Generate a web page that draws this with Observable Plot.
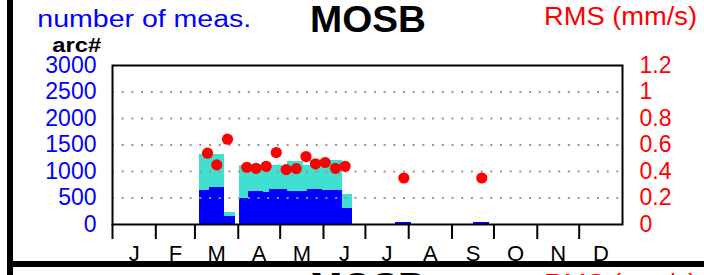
<!DOCTYPE html>
<html><head><meta charset="utf-8">
<script src="https://cdn.jsdelivr.net/npm/d3@7"></script>
<script src="https://cdn.jsdelivr.net/npm/@observablehq/plot@0.6"></script>
<style>
body{margin:0;background:#fff;}
#wrap{position:relative;width:704px;height:275px;overflow:hidden;background:#fff;font-family:"Liberation Sans",Arial,sans-serif;}
#wrap svg{position:absolute;left:0;top:0;}
</style></head><body><div id="wrap"></div>
<script>
// ---- data ----
const monthLabels = ["J","F","M","A","M","J","J","A","S","O","N","D"];
const monthStarts = [0,31,59,90,120,151,181,212,243,273,304,334];
const monthLengths = [31,28,31,30,31,30,31,31,30,31,30,31];
const countTicks = [0,500,1000,1500,2000,2500,3000];
const gridTicks = [500,1000,1500,2000,2500];
const rmsTicks = [0,0.2,0.4,0.6,0.8,1,1.2];

// total number of measurements (turquoise), by day-of-year span
const totalStart = [62.5, 80.4, 90.7, 125.5, 136.9, 141.7, 164.9, 202.7, 258.6];
const totalEnd   = [80.4, 87.8, 125.5, 136.9, 141.7, 164.9, 172.0, 214.0, 270.0];
const totalCount = [1318, 220, 1106, 1188, 1110, 1205, 562, 40, 40];

// arc measurements (blue), by day-of-year span
const arcStart = [62.5, 69.2, 80.4, 90.7, 97.3, 108.3, 112.1, 125.5, 139.3, 150.5, 164.9, 202.7, 258.6];
const arcEnd   = [69.2, 80.4, 87.8, 97.3, 108.3, 112.1, 125.5, 139.3, 150.5, 164.9, 172.0, 214.0, 270.0];
const arcCount = [636, 689, 144, 499, 619, 600, 651, 624, 655, 636, 309, 40, 40];

// weekly RMS (mm/s)
const rmsDay   = [68.0, 74.6, 82.3, 96.1, 102.8, 110.0, 117.2, 124.3, 131.5, 138.5, 145.3, 152.2, 159.6, 166.5, 208.5, 264.3];
const rmsValue = [0.538, 0.450, 0.644, 0.432, 0.424, 0.439, 0.543, 0.414, 0.422, 0.513, 0.458, 0.468, 0.424, 0.439, 0.351, 0.351];

// ---- build ----
const countMax = countTicks[countTicks.length-1];
const rmsMax = rmsTicks[rmsTicks.length-1];
const k = countMax / rmsMax;
const totals = totalCount.map((v,i)=>({x1: totalStart[i], x2: totalEnd[i], v}));
const arcs = arcCount.map((v,i)=>({x1: arcStart[i], x2: arcEnd[i], v}));
const rms = rmsValue.map((v,i)=>({x: rmsDay[i], v}));
const monthMids = monthStarts.map((s,i)=> s + monthLengths[i]/2);

const chart = Plot.plot({
  width: 704, height: 275,
  marginLeft: 112, marginRight: 82, marginTop: 65, marginBottom: 51,
  style: {fontFamily: '"Liberation Sans", Arial, sans-serif', background: "transparent", overflow: "visible"},
  x: {domain: [0, 365]},
  y: {domain: [0, countMax]},
  marks: [
    Plot.rectY(totals, {x1: "x1", x2: "x2", y: "v", fill: "#40e0d0", shapeRendering: "crispEdges"}),
    Plot.rectY(arcs, {x1: "x1", x2: "x2", y: "v", fill: "#0000ff", shapeRendering: "crispEdges"}),
    Plot.gridY(gridTicks, {stroke: "#b08a8a", strokeOpacity: 1, strokeWidth: 2, strokeDasharray: "2 7.7"}),
    Plot.dot(rms, {x: "x", y: d => d.v * k, r: 5.6, fill: "#ff0000"}),
    Plot.frame({stroke: "black", strokeWidth: 2}),
    Plot.axisY(countTicks, {anchor: "left", tickSize: 0, tickPadding: 16, fill: "#0000ff", fontSize: 23, label: null,
      tickFormat: d => String(d)}),
    Plot.axisY(rmsTicks.map(r => r * k), {anchor: "right", tickSize: 0, tickPadding: 17, fill: "#ff0000", fontSize: 23, label: null,
      tickFormat: d => String(rmsTicks[d3.minIndex(rmsTicks, r => Math.abs(r*k - d))])}),
    Plot.axisX(monthStarts, {tickSize: 15, tickPadding: 0, stroke: "black", strokeWidth: 2, tickFormat: () => "", label: null}),
    Plot.axisX(monthMids, {tickSize: 0, tickPadding: 21, fill: "black", fontSize: 22, label: null, ariaLabel: "month-label",
      tickFormat: d => monthLabels[monthMids.indexOf(d)]})
  ]
});
const wrap = document.getElementById("wrap");
wrap.appendChild(chart);

// widen month letters slightly (reference glyphs are broader)
d3.select(chart).selectAll('g[aria-label="month-label"] text').each(function() {
  if (!this.textContent) return;
  const t = this.getAttribute("transform") || "";
  this.setAttribute("transform", t + " scale(1.2,1)");
});

const ns = "http://www.w3.org/2000/svg";
const ov = document.createElementNS(ns, "svg");
ov.setAttribute("width", 704); ov.setAttribute("height", 275);
ov.style.pointerEvents = "none";
ov.innerHTML = `
<rect x="7" y="0" width="6" height="275" fill="black"/>
<rect x="7" y="261" width="697" height="6" fill="black"/>
<g font-family="Liberation Sans, Arial, sans-serif">
<text x="37.3" y="27.3" fill="#0000ff" font-size="23" textLength="214" lengthAdjust="spacingAndGlyphs">number of meas.</text>
<text x="310" y="31.7" fill="black" font-size="37" font-weight="bold" textLength="116" lengthAdjust="spacingAndGlyphs">MOSB</text>
<text x="544" y="25" fill="#ff0000" font-size="26" textLength="153" lengthAdjust="spacingAndGlyphs">RMS (mm/s)</text>
<text x="52.3" y="51.8" fill="black" font-size="19.5" font-weight="bold" textLength="49" lengthAdjust="spacingAndGlyphs">arc#</text>
<text x="310" y="299" fill="black" font-size="37" font-weight="bold" textLength="116" lengthAdjust="spacingAndGlyphs">MOSB</text>
<text x="544" y="292" fill="#ff0000" font-size="26" textLength="153" lengthAdjust="spacingAndGlyphs">RMS (mm/s)</text>
</g>`;
wrap.appendChild(ov);
</script></body></html>
